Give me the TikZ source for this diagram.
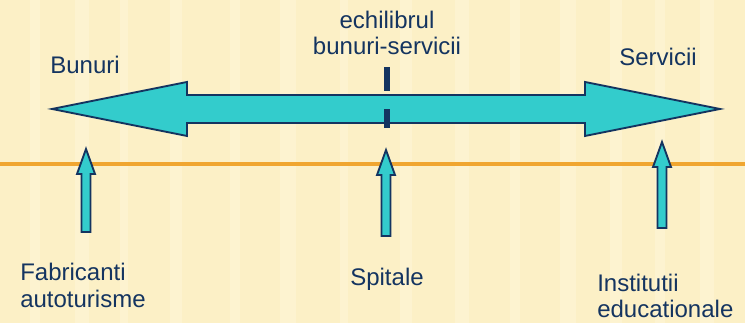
\documentclass[tikz,border=0pt]{standalone}
\usepackage{fontspec}
\setmainfont{Liberation Sans}
\definecolor{paper}{RGB}{252,240,198}
\definecolor{stripe}{RGB}{255,248,222}
\definecolor{navy}{RGB}{20,52,96}
\definecolor{aqua}{RGB}{51,204,204}
\definecolor{rule}{RGB}{240,166,48}
\tikzset{
  label/.style={text=navy, font=\fontsize{18}{21}\selectfont, inner sep=0pt},
  shapefill/.style={fill=aqua, draw=navy, line width=1.4pt, line join=miter},
  tick/.style={fill=navy, draw=none}
}
% upward arrow: x, tip y, bottom y
\newcommand{\uparrowshape}[3]{%
  \draw[shapefill] (#1,#2) -- (#1+9,#2+25) -- (#1+4.5,#2+25) -- (#1+4.5,#3)
    -- (#1-4.5,#3) -- (#1-4.5,#2+25) -- (#1-9,#2+25) -- cycle;}
\begin{document}
\begin{tikzpicture}[x=0.75pt,y=-0.75pt]
  % paper background with faint vertical stripes
  \fill[paper] (0,0) rectangle (745,323);
  \foreach \s/\w in {30/10, 75/14, 120/8, 170/12, 230/10, 280/16, 340/8, 400/12, 455/14, 510/10, 560/16, 610/12, 655/10, 700/14}
    \fill[stripe, opacity=0.45] (\s,0) rectangle (\s+\w,323);
  \useasboundingbox (0,0) rectangle (745,323);

  % orange baseline
  \draw[rule, line width=2.4pt] (0,164) -- (745,164);

  % double-headed scale arrow
  \draw[shapefill] (52,109) -- (187,82) -- (187,95) -- (585,95) -- (585,82)
    -- (720,109) -- (585,136) -- (585,123) -- (187,123) -- (187,136) -- cycle;

  % equilibrium marks
  \fill[tick] (384,67) rectangle (390,91);
  \fill[tick] (384,109) rectangle (390,128);

  % pointers from examples
  \uparrowshape{86}{149}{232}
  \uparrowshape{386}{150}{236}
  \uparrowshape{662}{142}{228}

  % labels
  \node[label] (bunuri) at (85,65) {Bunuri};
  \node[label] (servicii) at (658,57) {Servicii};
  \node[label] (echi1) at (387,20) {echilibrul};
  \node[label] (echi2) at (387,46) {bunuri-servicii};
  \node[label, anchor=west] (fab1) at (20,272) {Fabricanti};
  \node[label, anchor=west] (fab2) at (20,299) {autoturisme};
  \node[label] (spit) at (387,279) {Spitale};
  \node[label, anchor=west] (inst1) at (597,283) {Institutii};
  \node[label, anchor=west] (inst2) at (597,309) {educationale};
\end{tikzpicture}
\end{document}
